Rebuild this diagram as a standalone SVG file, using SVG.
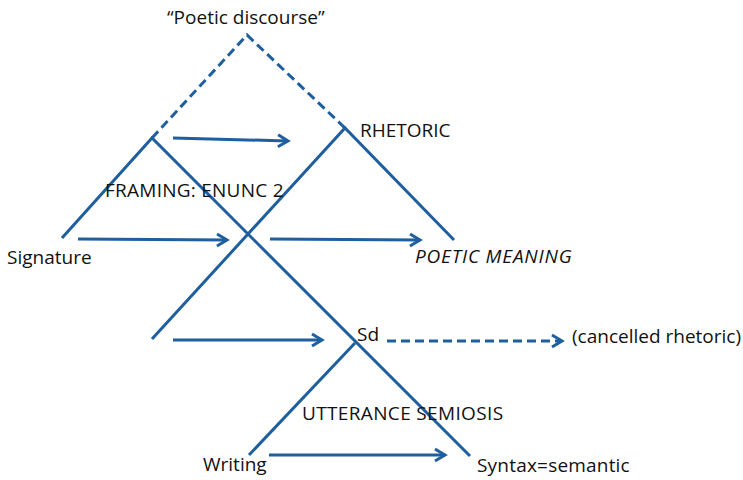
<svg xmlns="http://www.w3.org/2000/svg" width="743" height="480" viewBox="0 0 743 480">
<style>
.ln{stroke:#1F5F9E;stroke-width:3;fill:none;stroke-linecap:butt}
.dash{stroke-dasharray:9 5}
.t{font-family:"Open Sans","Liberation Sans",sans-serif;font-size:19px;fill:#111}
.it{font-style:italic;letter-spacing:0.8px}
</style>
<defs>
<marker id="ah" markerUnits="userSpaceOnUse" markerWidth="16" markerHeight="16" refX="12" refY="8" orient="auto">
<path d="M2,2 L12,8 L2,14" fill="none" stroke="#1F5F9E" stroke-width="3" stroke-linejoin="miter"/>
</marker>
</defs>
<rect width="743" height="480" fill="#fff"/>
<g id="connectors">
<path class="ln dash" d="M152,138 L247,35 L345,128"/>
<path class="ln" d="M62,238 L152,138 L470,456"/>
<path class="ln" d="M152,339 L345,128 L454,240"/>
<path class="ln" d="M249,455 L355,343"/>
<line class="ln" x1="173" y1="138" x2="288" y2="141" marker-end="url(#ah)"/>
<line class="ln" x1="78" y1="239" x2="227" y2="240" marker-end="url(#ah)"/>
<line class="ln" x1="270" y1="239" x2="420" y2="240" marker-end="url(#ah)"/>
<line class="ln" x1="173" y1="340" x2="322" y2="340" marker-end="url(#ah)"/>
<line class="ln" x1="269" y1="455" x2="445" y2="455" marker-end="url(#ah)"/>
<line class="ln dash" x1="387" y1="341" x2="562" y2="341" marker-end="url(#ah)"/>
</g>
<g id="poetic-discourse"><text class="t" x="167" y="24">“Poetic discourse”</text></g>
<g id="rhetoric"><text class="t" x="360" y="137">RHETORIC</text></g>
<g id="framing"><text class="t" x="105" y="197" letter-spacing="0.25">FRAMING: ENUNC 2</text></g>
<g id="signature"><text class="t" x="7" y="264">Signature</text></g>
<g id="poetic-meaning"><text class="t it" x="415" y="263">POETIC MEANING</text></g>
<g id="sd"><text class="t" x="357" y="341">Sd</text></g>
<g id="cancelled-rhetoric"><text class="t" x="572" y="343">(cancelled rhetoric)</text></g>
<g id="utterance-semiosis"><text class="t" x="302" y="420" letter-spacing="0.35">UTTERANCE SEMIOSIS</text></g>
<g id="writing"><text class="t" x="203" y="471">Writing</text></g>
<g id="syntax"><text class="t" x="477" y="472" letter-spacing="0.2">Syntax=semantic</text></g>
</svg>
